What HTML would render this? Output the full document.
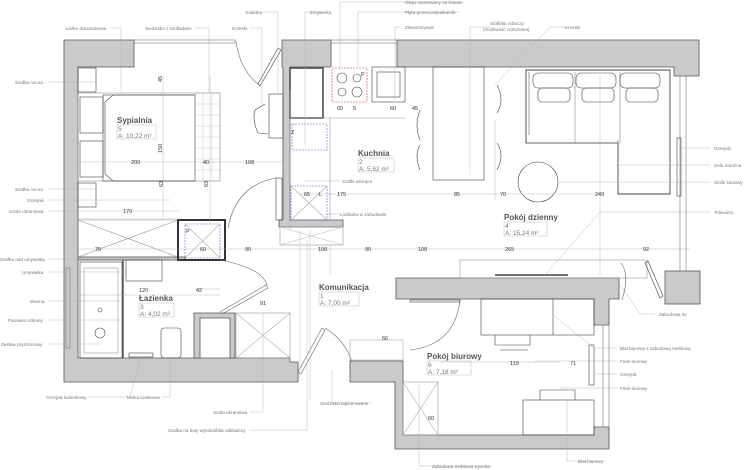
<!DOCTYPE html>
<html><head><meta charset="utf-8"><style>
html,body{margin:0;padding:0;background:#fff;}
svg{display:block}
text{font-family:"Liberation Sans",sans-serif;}
.l{font-size:4.6px;fill:#777}
.d{font-size:5.5px;fill:#333}
.r{font-size:8px;fill:#555;font-weight:bold}
.s{font-size:6.5px;fill:#777}
</style></head><body>
<svg width="745" height="470" viewBox="0 0 745 470" xmlns="http://www.w3.org/2000/svg">
<g fill="#cacaca" stroke="#555" stroke-width="0.8">
<polygon points="64,40 134,40 134,67 78,67 78,358 290,358 290,362 298,362 298,382 64,382"/>
<polygon points="282,40 331,40 331,67 290,67 290,220 343,220 343,227 279,227 279,220 283,220 283,67 282,67"/>
<polygon points="397,40 699,40 699,76 674,76 674,67 397,67"/>
<rect x="665" y="271" width="35" height="33"/>
<polygon points="396,278 619,278 619,299 609,299 609,325 594,325 594,299 396,299"/>
<polygon points="594,427 609,427 609,449 395,449 395,382 350,382 350,361 403,361 403,435 594,435"/>
<polygon points="194,313 235,313 235,358 230,358 230,318 200,318 200,358 194,358"/>
<rect x="78" y="257" width="107" height="3"/>
</g>
<g fill="none" stroke="#777" stroke-width="0.6">
<rect x="134" y="40" width="101" height="3"/>
<rect x="331" y="40" width="66" height="3"/>
<rect x="680" y="76" width="6" height="195"/>
<rect x="603" y="325" width="6" height="102"/>
<rect x="66" y="268" width="4" height="80"/>
</g>
<g fill="none" stroke="#444" stroke-width="0.6">
<rect x="78" y="68" width="18" height="24"/><rect x="78" y="183" width="18" height="24"/>
<rect x="78" y="93" width="142" height="88" stroke="#999"/>
<rect x="103" y="95" width="92" height="86"/>
<polygon points="105,102 113,95 195,95 195,181 113,181 105,174"/>
<rect x="80" y="97" width="23" height="36"/><rect x="80" y="141" width="23" height="36"/>
<rect x="195" y="93" width="25" height="88" stroke="#aaa"/>
<path d="M195,104H220M195,115H220M195,126H220M195,137H220M195,148H220M195,159H220M195,170H220M203,93V181M212,93V181" stroke="#ccc"/>
<path d="M78,220H178M78,220L178,257M78,257L178,220" stroke="#999"/>
<rect x="178" y="220" width="47" height="40" stroke="#333" stroke-width="2"/>
<rect x="185" y="224" width="35" height="34" stroke="#66c" stroke-dasharray="2,1"/>
<path d="M185,224L220,258M220,224L185,258" stroke="#aaa"/>
<rect x="269" y="94" width="14" height="44"/>
<path d="M255,110 Q252,120 258,133 M255,110 L265,104 M258,133 L268,134"/>
<path d="M236,41 Q240,70 258,84" stroke="#666"/><path d="M258,84 L278,48 L281,50 L260,86Z"/>
<rect x="276" y="178" width="6" height="42"/><path d="M276,178 Q236,185 228,228" stroke="#666"/>
<rect x="290" y="68" width="33" height="50" stroke-width="1.5"/>
<rect x="332" y="68" width="35" height="34" stroke="#c44" stroke-dasharray="2,1"/>
<circle cx="342" cy="78" r="5"/><circle cx="357" cy="78" r="4"/><circle cx="342" cy="92" r="4"/><circle cx="357" cy="92" r="5"/>
<rect x="372" y="67" width="33" height="35"/><rect x="377" y="72" width="23" height="25"/>
<path d="M330,118V220M290,118H405" stroke="#999"/>
<rect x="292" y="124" width="35" height="26" stroke="#66c" stroke-dasharray="2,1"/>
<rect x="291" y="186" width="36" height="34" stroke="#66c" stroke-dasharray="2,1"/>
<path d="M291,186L327,220M327,186L291,220" stroke="#aaa"/>
<rect x="280" y="227" width="63" height="18" stroke="#999"/><path d="M280,227L343,245M343,227L280,245" stroke="#bbb"/>
<rect x="433" y="67" width="51" height="113"/>
<path d="M420,110 Q414,125 420,140 M420,145 Q414,155 420,170 M497,85 Q505,100 497,113 M497,143 Q505,155 497,170"/>
<path d="M526,70H670V194H618V143H526Z" stroke-width="0.9"/>
<path d="M529,72 V135 M618,143 V140" stroke="#666"/>
<path d="M575,72 V143 M620,72 V143 M526,143 H618" stroke="#888"/>
<rect x="533" y="73" width="40" height="15" rx="5"/><rect x="576" y="73" width="40" height="15" rx="5"/><rect x="620" y="73" width="40" height="15" rx="5"/>
<rect x="538" y="88" width="32" height="14" rx="4"/><rect x="582" y="88" width="32" height="14" rx="4"/><rect x="626" y="88" width="32" height="14" rx="4"/>
<circle cx="538" cy="182" r="20"/>
<rect x="677" y="138" width="4" height="58"/>
<rect x="460" y="260" width="187" height="18" stroke="#999"/>
<path d="M495,275H568" stroke-width="1.5"/>
<path d="M621,263 Q630,275 622,300" stroke="#666"/><path d="M648,261 L663,296 L660,298 L645,263Z"/>
<rect x="481" y="299" width="113" height="36"/><path d="M553,299V335"/>
<path d="M495,335 V345 H530 V335 M500,350H528"/>
<rect x="523" y="400" width="71" height="35"/><path d="M540,400 V390 H575 V400"/>
<rect x="403" y="382" width="35" height="53" stroke="#999"/><path d="M403,382L438,435M438,382L403,435" stroke="#aaa"/>
<rect x="589" y="345" width="5" height="40"/>
<path d="M410,350 Q455,345 460,300" stroke="#666"/><rect x="410" y="300" width="50" height="2"/>
<rect x="236" y="313" width="54" height="45" stroke="#999"/><path d="M236,313L290,358M290,313L236,358" stroke="#aaa"/>
<path d="M220,260 Q262,268 267,285 M220,312 L266,285 L268,288 L222,314" stroke="#666"/>
<path d="M298,372 L322,328 L325,330 L301,374Z M325,328 Q345,340 352,362" stroke="#666"/>
<rect x="350" y="340" width="53" height="20" stroke="#aaa"/>
<rect x="80" y="262" width="42" height="96"/><rect x="84" y="268" width="34" height="85" stroke="#999"/>
<path d="M123,260V358" stroke="#333" stroke-width="1.2"/>
<circle cx="100" cy="310" r="2"/><circle cx="100" cy="333" r="5"/>
<rect x="126" y="260" width="36" height="21"/><rect x="161" y="328" width="20" height="30" rx="3"/>
<rect x="129" y="353" width="24" height="4"/>
</g>
<g stroke="#aaa" stroke-width="0.4" fill="none">
<path d="M78,162H282M300,194H600M78,219H180M78,249H690M195,289H220M75,295H220M441,362H560M163,75V220M210,75V225M290,90V230M330,245V275M495,120V200M600,75V275M300,230V380M310,230V400"/>
</g>
<g class="d">
<text x="158" y="82" transform="rotate(-90 160 80)">45</text>
<text x="157" y="152" transform="rotate(-90 160 150)">150</text>
<text x="131" y="164">200</text><text x="203" y="164">40</text><text x="245" y="164">108</text>
<text x="159" y="187" transform="rotate(-90 161 185)">63</text><text x="204" y="187" transform="rotate(-90 206 185)">63</text>
<text x="123" y="213">170</text><text x="95" y="251">75</text><text x="200" y="251">60</text><text x="245" y="251">90</text>
<text x="318" y="251">108</text><text x="365" y="251">90</text><text x="418" y="251">108</text><text x="505" y="251">265</text><text x="643" y="251">92</text>
<text x="337" y="110">60</text><text x="353" y="110">5</text><text x="390" y="110">60</text><text x="412" y="110">45</text>
<text x="337" y="196">175</text><text x="454" y="196">85</text><text x="500" y="196">70</text><text x="595" y="196">249</text>
<text x="304" y="196">65</text><text x="139" y="292">120</text><text x="196" y="292">42</text><text x="260" y="305">91</text>
<text x="382" y="340">66</text><text x="510" y="365">119</text><text x="570" y="365">71</text><text x="428" y="420">60</text>
</g>
<g class="d" font-size="6.5">
<text x="291" y="134">Z</text><text x="319" y="196">L</text><text x="186" y="233">P</text><text x="361" y="76">P</text>
</g>
<g>
<text class="r" x="117" y="123">Sypialnia</text><rect x="117" y="125" width="39" height="14" fill="none" stroke="#bbb" stroke-width="0.5"/><text class="s" x="118" y="131">5</text><text class="s" x="118" y="138">A: 10,22 m²</text>
<text class="r" x="358" y="156">Kuchnia</text><rect x="358" y="158" width="36" height="14" fill="none" stroke="#bbb" stroke-width="0.5"/><text class="s" x="359" y="164">2</text><text class="s" x="359" y="171">A: 5,62 m²</text>
<text class="r" x="504" y="220">Pokój dzienny</text><rect x="504" y="222" width="43" height="14" fill="none" stroke="#bbb" stroke-width="0.5"/><text class="s" x="505" y="228">4</text><text class="s" x="505" y="235">A: 15,24 m²</text>
<text class="r" x="319" y="290">Komunikacja</text><rect x="319" y="292" width="40" height="14" fill="none" stroke="#bbb" stroke-width="0.5"/><text class="s" x="320" y="298">1</text><text class="s" x="320" y="305">A: 7,00 m²</text>
<text class="r" x="139" y="301">Łazienka</text><rect x="139" y="303" width="35" height="14" fill="none" stroke="#bbb" stroke-width="0.5"/><text class="s" x="140" y="309">3</text><text class="s" x="140" y="316">A: 4,02 m²</text>
<text class="r" x="427" y="359">Pokój biurowy</text><rect x="427" y="361" width="44" height="14" fill="none" stroke="#bbb" stroke-width="0.5"/><text class="s" x="428" y="367">6</text><text class="s" x="428" y="374">A: 7,18 m²</text>
</g>
<g stroke="#aaa" stroke-width="0.4" fill="none">
<path d="M110,28H121V92M195,28H209V92M262,12H278V94M249,28H262V105M324,12H305V145M460,2H340V70M460,12H358V67M400,27H395V100M490,27H470V175M565,27H550L495,85M48,82H96M48,189H96M48,200H170M48,211H180M48,259H125M48,272H126M48,301H122M48,320H122M48,344H100M88,397H130L140,358M162,397H170V358M250,412H263V313M250,430H307V240M372,403H332V370M492,466H419V385M605,461H567V400M710,148H681M710,165H616M710,182H558M710,212H600L545,275M655,314H640L620,285M617,348H594L553,315M617,361H535M617,374H594M617,388H560M340,181H305M340,214H327"/>
</g>
<g class="l">
<text x="66" y="30">Łóżko dwuosobowe</text><text x="145" y="30">Siedzisko z szufladami</text>
<text x="245" y="14">Toaletka</text><text x="232" y="30">Krzesło</text><text x="310" y="14">Zmywarka</text>
<text x="405" y="4">Okap montowany na ścianie</text><text x="405" y="14">Płyta grzewcza/piekarnik</text>
<text x="405" y="29">Zlewozmywak</text><text x="490" y="25">Stół/blat roboczy</text><text x="483" y="31">(możliwość rozłożenia)</text>
<text x="565" y="29">Krzesło</text>
<text x="15" y="84">Szafka nocna</text><text x="15" y="191">Szafka nocna</text><text x="27" y="202">Grzejnik</text><text x="9" y="213">Szafa ubraniowa</text>
<text x="0" y="261">Szafka nad umywalką</text><text x="22" y="274">Umywalka</text><text x="30" y="303">Wanna</text>
<text x="8" y="322">Parawan szklany</text><text x="1" y="346">Zestaw prysznicowy</text>
<text x="46" y="399">Grzejnik łazienkowy</text><text x="127" y="399">Miska toaletowa</text><text x="213" y="414">Szafa ubraniowa</text>
<text x="168" y="432">Szafka na buty wysoka/blat odkładczy</text><text x="320" y="405">Siedzisko tapicerowane</text>
<text x="432" y="468">Zabudowa meblowa wysoka</text><text x="578" y="463">Blat biurowy</text>
<text x="714" y="150">Grzejnik</text><text x="714" y="167">Sofa narożna</text><text x="714" y="184">Stolik kawowy</text><text x="714" y="214">Telewizor</text>
<text x="659" y="316">Zabudowa rtv</text><text x="620" y="350">Blat biurowy z zabudową meblową</text>
<text x="620" y="363">Fotel biurowy</text><text x="620" y="376">Grzejnik</text><text x="620" y="390">Fotel biurowy</text>
<text x="342" y="183">Szafki wiszące</text><text x="340" y="216">Lodówka w zabudowie</text>
</g>
</svg>
</body></html>
